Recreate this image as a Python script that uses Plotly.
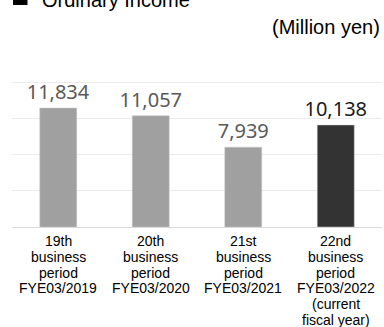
import plotly.graph_objects as go

categories = ["19th", "20th", "21st", "22nd"]
tick_labels = [
    ["19th", "business", "period", "FYE03/2019"],
    ["20th", "business", "period", "FYE03/2020"],
    ["21st", "business", "period", "FYE03/2021"],
    ["22nd", "business", "period", "FYE03/2022", "(current", "fiscal year)"],
]
values = [11834, 11057, 7939, 10138]
value_text = ["11,834", "11,057", "7,939", "10,138"]
bar_colors = ["#a0a0a0", "#a0a0a0", "#a0a0a0", "#333333"]
text_colors = ["#595959", "#595959", "#595959", "#1a1a1a"]

fig = go.Figure()
fig.add_trace(go.Bar(
    x=categories, y=values, width=0.4,
    marker=dict(color=bar_colors, line=dict(color="#c8c8c8", width=0.5)),
    text=value_text, textposition="outside", constraintext="none",
    textfont=dict(family="Noto Sans", size=20, color=text_colors),
    cliponaxis=False, hoverinfo="skip",
))

annotations = []
line_gap = 15.8
for cat, lines in zip(categories, tick_labels):
    for i, ln in enumerate(lines):
        annotations.append(dict(
            x=cat, xref="x", y=0, yref="paper", yanchor="middle",
            yshift=-(14 + line_gap * i), text=ln, showarrow=False,
            font=dict(family="Liberation Sans, Arial", size=14, color="#000000"),
        ))

annotations.append(dict(
    x=28 / 370, xref="paper", xanchor="left", y=1, yref="paper", yanchor="middle",
    yshift=46, text="Ordinary Income", showarrow=False,
    font=dict(family="Liberation Sans, Arial", size=20, color="#000000"),
))
annotations.append(dict(
    x=1, xref="paper", xanchor="right", y=1, yref="paper", yanchor="middle",
    yshift=19, text="(Million yen)", showarrow=False,
    font=dict(family="Liberation Sans, Arial", size=20, color="#000000"),
))

fig.update_layout(
    width=384, height=327,
    margin=dict(l=12, r=2, t=46, b=100),
    paper_bgcolor="white", plot_bgcolor="white",
    showlegend=False, bargap=0.6,
    annotations=annotations,
    shapes=[dict(type="rect", xref="paper", yref="paper",
                 x0=1 / 370, x1=15.5 / 370, y0=1 + 41 / 181, y1=1 + 57 / 181,
                 fillcolor="#000000", line=dict(width=0))],
    xaxis=dict(showticklabels=False, showline=True, linecolor="#d9d9d9",
               linewidth=1, showgrid=False, ticks="", fixedrange=True),
    yaxis=dict(range=[0, 18000], dtick=3600, showticklabels=False,
               showgrid=True, gridcolor="#ebebeb", gridwidth=1,
               zeroline=False, showline=False, ticks="", fixedrange=True),
)

fig.write_html("out.html")
